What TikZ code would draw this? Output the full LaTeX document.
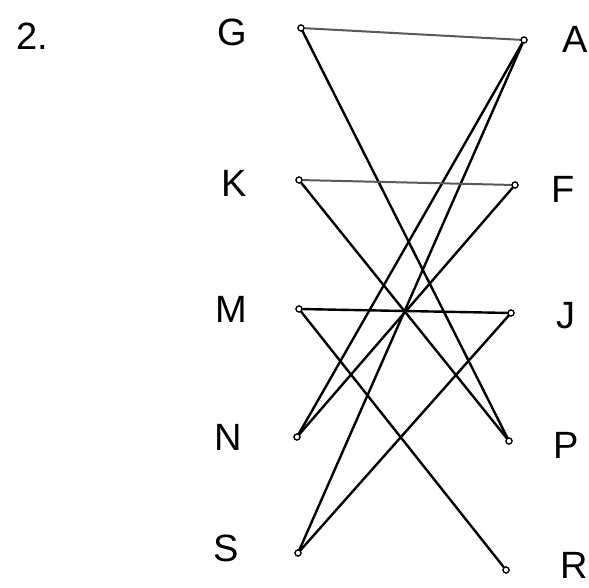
\documentclass[tikz,border=0pt]{standalone}
\usepackage{fontspec}
\setmainfont{Liberation Sans}
\begin{document}
\begin{tikzpicture}[x=1pt,y=-1pt,
  vert/.style={circle,draw=black,line width=1.2pt,fill=white,inner sep=0pt,minimum size=6pt},
  lbl/.style={font=\fontsize{38}{38}\selectfont,text=black,inner sep=0pt},
  edge/.style={draw=black,line width=2.4pt,line cap=round},
  lightedge/.style={draw=black!65,line width=2pt,line cap=round}]
\useasboundingbox (0,0) rectangle (589,587);
% vertices
\node[vert] (G) at (301,28) {};
\node[vert] (A) at (524,40) {};
\node[vert] (K) at (299,180) {};
\node[vert] (F) at (515,185) {};
\node[vert] (M) at (299,309) {};
\node[vert] (J) at (511,313) {};
\node[vert] (N) at (297,437) {};
\node[vert] (P) at (509,441) {};
\node[vert] (S) at (298,553) {};
\node[vert] (R) at (506,570) {};
% labels
\node[lbl] (lG) at (232,32) {G};
\node[lbl] (lA) at (575,39) {A};
\node[lbl] (lK) at (234,183) {K};
\node[lbl] (lF) at (563,189) {F};
\node[lbl] (lM) at (231,309) {M};
\node[lbl] (lJ) at (566,316) {J};
\node[lbl] (lN) at (228,437) {N};
\node[lbl] (lP) at (566,445) {P};
\node[lbl] (lS) at (226,548) {S};
\node[lbl] (lR) at (574,565) {R};
\node[lbl,anchor=west] (num) at (16,36) {2.};
% edges
\draw[lightedge] (G) -- (A);
\draw[edge] (G) -- (P);
\draw[edge] (A) -- (N);
\draw[edge] (A) -- (S);
\draw[lightedge] (K) -- (F);
\draw[edge] (K) -- (P);
\draw[edge] (F) -- (N);
\draw[edge] (M) -- (J);
\draw[edge] (M) -- (R);
\draw[edge] (J) -- (S);
\foreach \v in {G,A,K,F,M,J,N,P,S,R} \node[vert] at (\v) {};
\end{tikzpicture}
\end{document}
